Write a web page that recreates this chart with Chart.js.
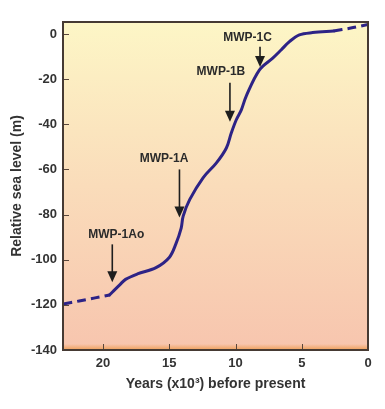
<!DOCTYPE html>
<html><head><meta charset="utf-8">
<script src="https://cdn.jsdelivr.net/npm/chart.js@4/dist/chart.umd.min.js"></script>
<style>html,body{margin:0;padding:0;background:#fff}canvas{display:block}</style>
</head><body>
<canvas id="c" width="385" height="409"></canvas>
<script>
// ---- data (age in kyr BP, relative sea level in m) ----
const earlyAges   = [23.0, 21.8, 20.6, 19.5];
const earlyLevels = [-119.6, -118.3, -116.9, -115.6];

const mainAges   = [19.5, 19.2, 18.7, 18.3, 17.4, 16.0, 15.0, 14.5, 14.1, 13.95, 13.45, 12.45, 11.44, 10.69, 10.32, 9.94, 9.56, 9.19, 8.19, 7.19, 6.56, 5.93, 5.18, 4.18, 2.6];
const mainLevels = [-115.6, -113.8, -110.9, -108.7, -106.3, -103.5, -99, -93, -86, -80.7, -73.3, -63.7, -57.1, -50.5, -43.9, -38, -33.6, -27.5, -15.9, -10.7, -7.1, -3.4, -0.4, 0.6, 1.3];

const lateAges   = [2.6, 1.3, 0.0];
const lateLevels = [1.3, 2.6, 4.2];

const xTickValues = [20, 15, 10, 5, 0];
const yTickValues = [0, -20, -40, -60, -80, -100, -120, -140];

// annotations: label, arrow age, arrow start level, arrow tip level, label age, label level
const annLabels    = ['MWP-1Ao', 'MWP-1A', 'MWP-1B', 'MWP-1C'];
const annAges      = [19.3, 14.23, 10.42, 8.15];
const annFromLvls  = [-93.2, -60.0, -21.6, -5.7];
const annToLvls    = [-110.0, -81.3, -38.9, -14.6];
const annTextAges  = [19.0, 15.4, 11.1, 9.09];
const annTextLvls  = [-88.8, -55.2, -16.8, -1.8];

const toPts = (xs, ys) => xs.map((x, i) => ({x: x, y: ys[i]}));
const FONT = '"Liberation Sans", Arial, Helvetica, sans-serif';
const LINE = '#2d2386';

const decorPlugin = {
  id: 'decor',
  beforeDatasetsDraw(chart) {
    const {ctx, chartArea: a} = chart;
    ctx.save();
    const g = ctx.createLinearGradient(0, a.top, 0, a.bottom);
    g.addColorStop(0, '#fdf6c6');
    g.addColorStop(0.5, '#fadcba');
    g.addColorStop(1, '#f7c5ae');
    ctx.fillStyle = g;
    ctx.fillRect(a.left, a.top, a.right - a.left, a.bottom - a.top);
    const og = ctx.createLinearGradient(0, a.bottom - 6, 0, a.bottom);
    og.addColorStop(0, 'rgba(240,160,90,0)');
    og.addColorStop(1, '#ee9f58');
    ctx.fillStyle = og;
    ctx.fillRect(a.left, a.bottom - 6, a.right - a.left, 6);
    ctx.restore();
  },
  afterDatasetsDraw(chart) {
    const {ctx, chartArea: a, scales: {x, y}} = chart;
    ctx.save();
    // inner tick marks
    ctx.strokeStyle = '#5a463a';
    ctx.lineWidth = 1;
    yTickValues.forEach(v => {
      const py = Math.round(y.getPixelForValue(v)) + 0.5;
      ctx.beginPath(); ctx.moveTo(a.left, py); ctx.lineTo(a.left + 6, py); ctx.stroke();
    });
    xTickValues.forEach(v => {
      const px = Math.round(x.getPixelForValue(v)) + 0.5;
      ctx.beginPath(); ctx.moveTo(px, a.bottom); ctx.lineTo(px, a.bottom - 6); ctx.stroke();
    });
    // frame
    ctx.strokeStyle = '#463a33';
    ctx.lineWidth = 2;
    ctx.strokeRect(a.left, a.top, a.right - a.left, a.bottom - a.top);
    // annotations
    ctx.font = 'bold 12px ' + FONT;
    ctx.textAlign = 'center';
    ctx.textBaseline = 'middle';
    annLabels.forEach((lab, i) => {
      ctx.fillStyle = '#2b2b2b';
      ctx.fillText(lab, x.getPixelForValue(annTextAges[i]), y.getPixelForValue(annTextLvls[i]));
      const px = x.getPixelForValue(annAges[i]);
      const y0 = y.getPixelForValue(annFromLvls[i]);
      const y1 = y.getPixelForValue(annToLvls[i]);
      ctx.strokeStyle = '#1e1e1e';
      ctx.lineWidth = 1.6;
      ctx.beginPath(); ctx.moveTo(px, y0); ctx.lineTo(px, y1 - 8); ctx.stroke();
      ctx.beginPath();
      ctx.moveTo(px - 5, y1 - 11); ctx.lineTo(px + 5, y1 - 11); ctx.lineTo(px, y1); ctx.closePath();
      ctx.fillStyle = '#1e1e1e';
      ctx.fill();
    });
    ctx.restore();
  }
};

new Chart(document.getElementById('c'), {
  type: 'line',
  data: {
    datasets: [
      {data: toPts(earlyAges, earlyLevels), borderColor: LINE, borderWidth: 3, borderDash: [9, 5], pointRadius: 0, tension: 0.3, fill: false},
      {data: toPts(mainAges, mainLevels), borderColor: LINE, borderWidth: 3, pointRadius: 0, tension: 0.35, fill: false, borderCapStyle: 'round'},
      {data: toPts(lateAges, lateLevels), borderColor: LINE, borderWidth: 3, borderDash: [9, 5], pointRadius: 0, tension: 0.3, fill: false}
    ]
  },
  options: {
    responsive: false,
    animation: false,
    devicePixelRatio: 1,
    layout: {padding: {top: 22, right: 17, left: 0, bottom: 0}},
    plugins: {legend: {display: false}, tooltip: {enabled: false}},
    scales: {
      x: {
        type: 'linear', reverse: true, min: 0, max: 23.02,
        grid: {display: false, drawTicks: false}, border: {display: false},
        afterBuildTicks: s => { s.ticks = xTickValues.map(v => ({value: v})); },
        afterFit: s => { s.height = 59; },
        ticks: {padding: 6, color: '#333', font: {family: FONT, size: 13, weight: 'bold'}, maxRotation: 0, callback: v => String(v)},
        title: {display: true, text: 'Years (x10³) before present', color: '#333', padding: {top: 0, bottom: 16}, font: {family: FONT, size: 14, weight: 'bold'}}
      },
      y: {
        type: 'linear', min: -140, max: 5.3,
        grid: {display: false, drawTicks: false}, border: {display: false},
        afterBuildTicks: s => { s.ticks = yTickValues.map(v => ({value: v})); },
        afterFit: s => { s.width = 63; },
        ticks: {padding: 6, color: '#333', font: {family: FONT, size: 13, weight: 'bold'}, callback: v => String(v)},
        title: {display: true, text: 'Relative sea level (m)', color: '#333', padding: {top: 9, bottom: 0}, font: {family: FONT, size: 14, weight: 'bold'}}
      }
    }
  },
  plugins: [decorPlugin]
});
</script>
</body></html>
